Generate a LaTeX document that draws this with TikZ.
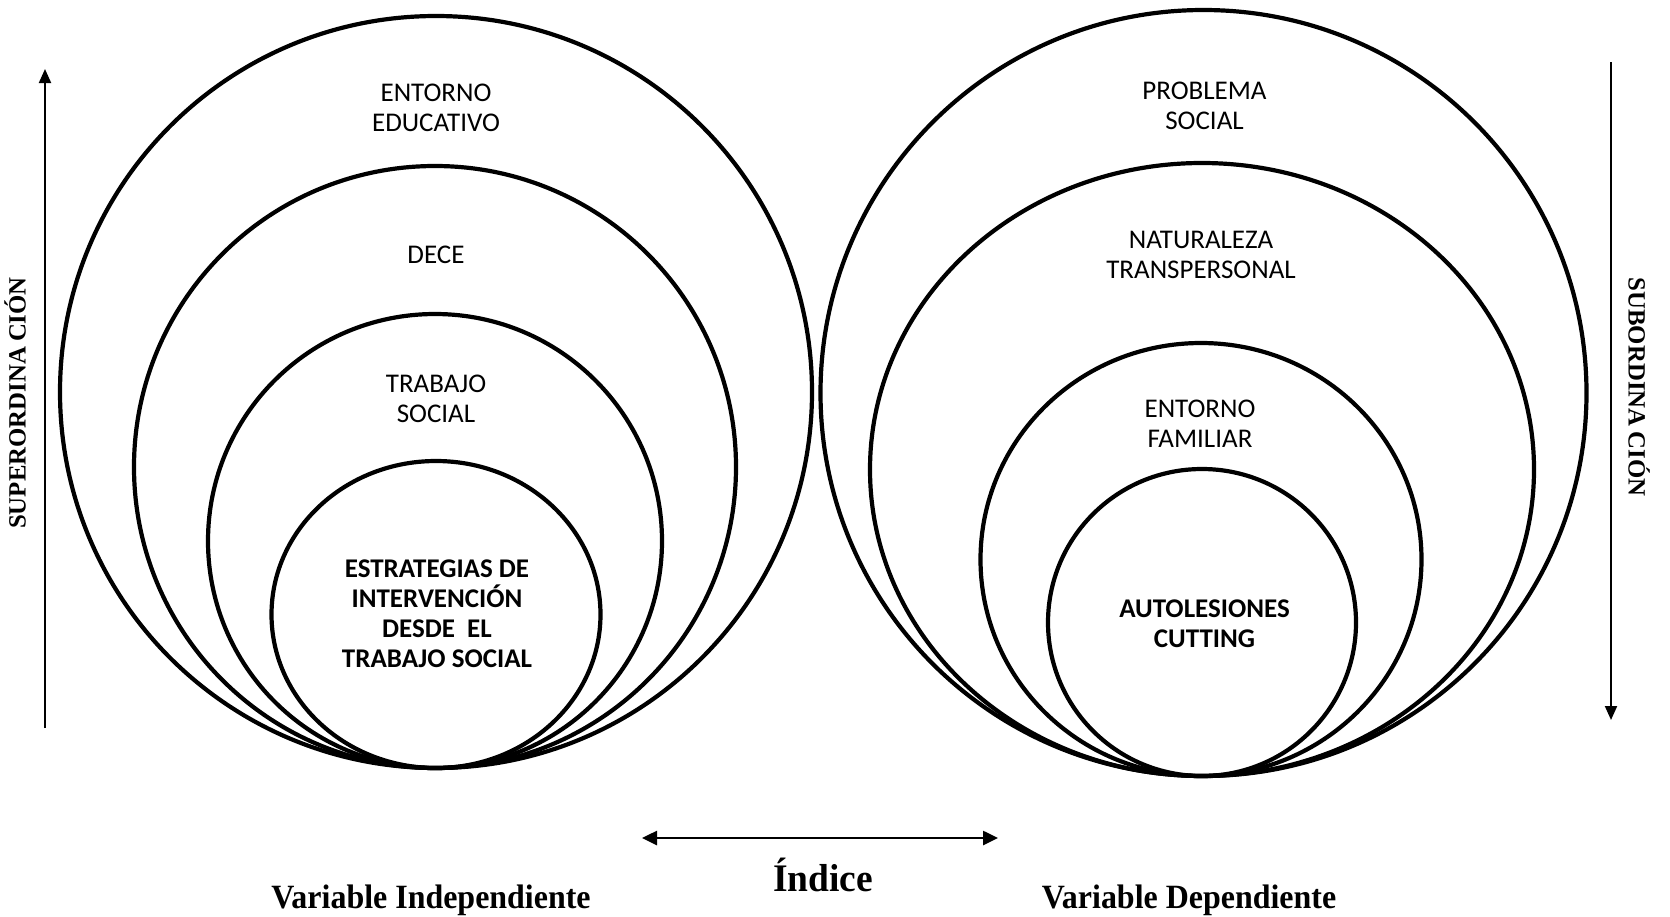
\documentclass[tikz,border=0pt]{standalone}
\usepackage{graphicx}
\usepackage{fontspec}
\setmainfont{Carlito}
\newfontfamily\labelfont{Liberation Serif}
\usetikzlibrary{shapes.geometric,arrows.meta}

\tikzset{
  ring/.style={draw, ellipse, line width=2.1pt, inner sep=0pt, outer sep=0pt},
  circtext/.style={align=center, inner sep=0pt, font=\fontsize{13.5}{15}\selectfont},
  circbold/.style={align=center, inner sep=0pt, font=\fontsize{13.5}{15}\selectfont\bfseries},
  vaxis/.style={line width=1pt, -{Triangle[length=7pt,width=6pt]}},
  haxis/.style={line width=1.3pt, {Triangle[length=7.5pt,width=7pt]}-{Triangle[length=7.5pt,width=7pt]}},
  sidelabel/.style={inner sep=0pt, font=\labelfont\bfseries\fontsize{12.4}{14}\selectfont},
  varlabel/.style={inner sep=0pt, anchor=base, font=\labelfont\bfseries\fontsize{17}{20}\selectfont},
  idxlabel/.style={inner sep=0pt, anchor=base, font=\labelfont\bfseries\fontsize{19.5}{22}\selectfont}
}

\begin{document}
\begin{tikzpicture}[x=0.5pt, y=-0.5pt]
  \useasboundingbox (0,0) rectangle (1670,916);

  % independent variable: nested rings touching at the bottom
  \node[ring, minimum width=376pt, minimum height=376pt] (L1) at (436,392) {};
  \node[ring, minimum width=301pt, minimum height=301pt] (L2) at (435,467) {};
  \node[ring, minimum width=227pt, minimum height=227pt] (L3) at (435,541) {};
  \node[ring, minimum width=164.5pt, minimum height=153.5pt] (L4) at (436,614.5) {};

  \node[circtext] (tL1) at (436,108) {ENTORNO\\EDUCATIVO};
  \node[circtext] (tL2) at (436,254.5) {DECE};
  \node[circtext] (tL3) at (436,399) {TRABAJO\\SOCIAL};
  \node[circbold] (tL4) at (437,614) {ESTRATEGIAS DE\\INTERVENCIÓN\\DESDE\ \ EL\\TRABAJO SOCIAL};

  % dependent variable: nested rings touching at the bottom
  \node[ring, minimum width=383pt, minimum height=383pt] (R1) at (1203.5,393) {};
  \node[ring, minimum width=332pt, minimum height=306.5pt] (R2) at (1202,469.5) {};
  \node[ring, minimum width=220.5pt, minimum height=216.5pt] (R3) at (1201,559.5) {};
  \node[ring, minimum width=154pt, minimum height=153.5pt] (R4) at (1202,622.5) {};

  \node[circtext] (tR1) at (1204.5,105.5) {PROBLEMA\\SOCIAL};
  \node[circtext] (tR2) at (1201,255) {NATURALEZA\\TRANSPERSONAL};
  \node[circtext] (tR3) at (1200,423.5) {ENTORNO\\FAMILIAR};
  \node[circbold] (tR4) at (1204.5,623.5) {AUTOLESIONES\\CUTTING};

  % hierarchy arrows
  \coordinate (supB) at (45,728);
  \coordinate (supT) at (45,69);
  \draw[vaxis] (supB) -- (supT);
  \node[sidelabel, rotate=90] (sup) at (15,403) {SUPERORDINA\kern2.5pt CIÓN};

  \coordinate (subT) at (1611,62);
  \coordinate (subB) at (1611,720);
  \draw[vaxis] (subT) -- (subB);
  \node[sidelabel, rotate=-90] (sub) at (1639,387) {SUBORDINA\kern2.5pt CIÓN};

  % index arrow between both variables
  \coordinate (idxL) at (642,838);
  \coordinate (idxR) at (998,838);
  \draw[haxis] (idxL) -- (idxR);
  \node[idxlabel] (idx) at (823,891) {\scalebox{0.96}[1]{Índice}};

  \node[varlabel] (vi) at (431,908) {\scalebox{0.94}[1]{Variable Independiente}};
  \node[varlabel] (vd) at (1189,908) {\scalebox{0.94}[1]{Variable Dependiente}};
\end{tikzpicture}
\end{document}
